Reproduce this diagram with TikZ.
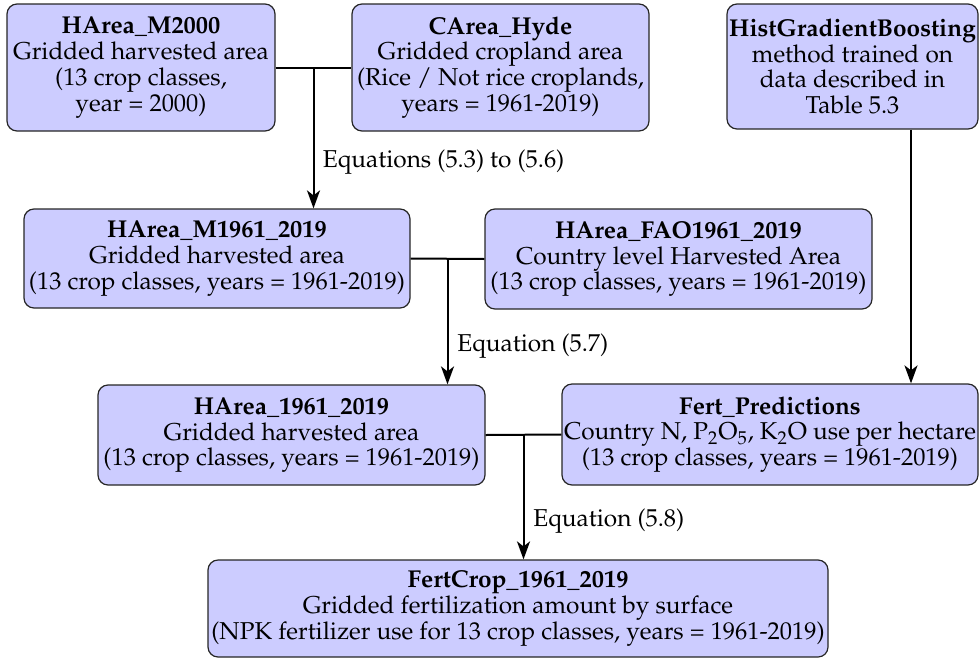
\documentclass[tikz,border=0pt]{standalone}
\usepackage[T1]{fontenc}
\usepackage{mathpazo}
\usetikzlibrary{arrows.meta,calc}
\begin{document}
\begin{tikzpicture}[x=0.5pt,y=-0.5pt,
  box/.style={draw=black!85, fill=blue!20, rounded corners=5pt, line width=0.6pt,
    align=center, inner sep=0pt, font=\fontsize{12.2}{12.9}\selectfont},
  link/.style={line width=1pt, draw=black},
  flow/.style={link, -{Stealth[length=9pt,width=6.5pt,inset=2.5pt]}},
  eqlabel/.style={anchor=west, inner sep=0pt, font=\fontsize{12.2}{12.9}\selectfont}]
\useasboundingbox (0,0) rectangle (979,659);

% input and intermediate data sets
\node[box, minimum width=134pt, minimum height=63.5pt] (b1) at (141,67.5)
  {\textbf{HArea\_M2000}\\Gridded harvested area\\(13 crop classes,\\year = 2000)};
\node[box, minimum width=148.5pt, minimum height=63.5pt] (b2) at (500.5,67.5)
  {\textbf{CArea\_Hyde}\\Gridded cropland area\\(Rice / Not rice croplands,\\years = 1961-2019)};
\node[box, minimum width=125.5pt, minimum height=62.5pt] (b3) at (852.5,66.5)
  {\textbf{HistGradientBoosting}\\method trained on\\data described in\\Table 5.3};
\node[box, minimum width=193pt, minimum height=49.5pt] (b4) at (217,258.5)
  {\textbf{HArea\_M1961\_2019}\\Gridded harvested area\\(13 crop classes, years = 1961-2019)};
\node[box, minimum width=193.5pt, minimum height=50pt] (b5) at (678.5,259)
  {\textbf{HArea\_FAO1961\_2019}\\Country level Harvested Area\\(13 crop classes, years = 1961-2019)};
\node[box, minimum width=193.5pt, minimum height=50pt] (b6) at (291.5,435)
  {\textbf{HArea\_1961\_2019}\\Gridded harvested area\\(13 crop classes, years = 1961-2019)};
\node[box, minimum width=208pt, minimum height=50.5pt] (b7) at (770,434.5)
  {\textbf{Fert\_Predictions}\\Country N, P$_2$O$_5$, K$_2$O use per hectare\\(13 crop classes, years = 1961-2019)};
\node[box, minimum width=310pt, minimum height=48.5pt] (b8) at (518,608.5)
  {\textbf{FertCrop\_1961\_2019}\\Gridded fertilization amount by surface\\(NPK fertilizer use for 13 crop classes, years = 1961-2019)};

% junctions between paired inputs
\coordinate (j1) at ($(b1.east)!0.5!(b2.west)$);
\coordinate (j2) at ($(b4.east)!0.5!(b5.west)$);
\coordinate (j3) at ($(b6.east)!0.5!(b7.west)$);
\coordinate (m3) at ([xshift=29.25pt]b3.south);

% connectors
\draw[link] (b1.east) -- (b2.west);
\draw[flow] (j1) -- (j1 |- b4.north);
\draw[link] (b4.east) -- (b5.west);
\draw[flow] (j2) -- (j2 |- b6.north);
\draw[link] (b6.east) -- (b7.west);
\draw[flow] (j3) -- (j3 |- b8.north);
\draw[flow] (m3) -- (m3 |- b7.north);

% equation labels
\node[eqlabel] (e1) at ($(j1)+(9,94.5)$) {Equations (5.3) to (5.6)};
\node[eqlabel] (e2) at ($(j2)+(9.5,87)$) {Equation (5.7)};
\node[eqlabel] (e3) at ($(j3)+(9.5,86)$) {Equation (5.8)};
\end{tikzpicture}
\end{document}
